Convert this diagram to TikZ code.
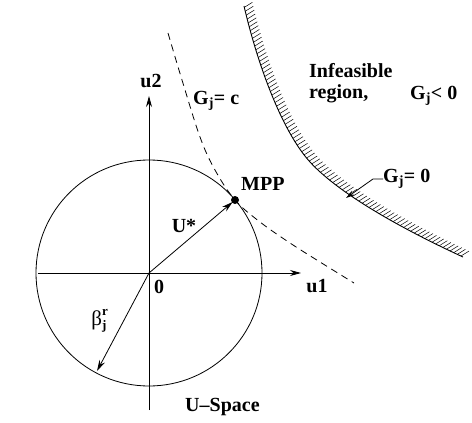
\documentclass[tikz,border=0pt]{standalone}
\usepackage{fontspec}
\setmainfont{Liberation Serif}
\usetikzlibrary{arrows.meta,decorations.markings}
\begin{document}
\begin{tikzpicture}[x=1pt,y=-1pt,
  lbl/.style={font=\fontsize{20}{22}\selectfont\bfseries, inner sep=0pt},
  tip/.style={-{Stealth[length=11pt,width=6pt]}},
  ln/.style={line width=0.8pt},
  dsh/.style={line width=0.8pt, dash pattern=on 7pt off 5pt},
  hatch/.style={postaction={decorate, decoration={markings,
     mark=between positions 0.004 and 0.996 step 4pt with {\pgftransformresetnontranslations\draw[line width=0.5pt] (0pt,0pt) -- (32:9.5pt);}}}}]
\useasboundingbox (0,0) rectangle (472,423);
\fill[white] (0,0) rectangle (472,423);
% coordinates
\coordinate (O) at (149,273);
\coordinate (xl) at (38,273);
\coordinate (xr) at (301,273);
\coordinate (yb) at (149,410);
\coordinate (yt) at (149,96);
\coordinate (mpp) at (235,200);
\coordinate (beta) at (97,371);
\coordinate (g0a) at (244,6);
\coordinate (g0m) at (310,162);
\coordinate (g0b) at (463,257);
% circle and axes
\draw[ln] (O) circle[radius=113pt];
\draw[ln,tip] (xl) -- (xr);
\draw[ln,tip] (yb) -- (yt);
% vectors
\fill (mpp) circle[radius=4pt];
\draw[ln,tip,shorten >=3pt] (O) -- (mpp);
\draw[ln,tip] (O) -- (beta);
% G_j = c dashed curve
\draw[dsh] plot[smooth,tension=0.6] coordinates {(168,33) (182,80) (200,137) (215,170) (235,200) (260,222) (290,243) (320,262) (354,283)};
% G_j = 0 curve with hatching
\draw[line width=0.9pt, hatch] (g0a) .. controls (257,62) and (281,130) .. (g0m)
   .. controls (342,197) and (413,234) .. (g0b);
% labels
\node[lbl] (u1) at (317,286) {u1};
\node[lbl] (u2) at (151,81) {u2};
\node[lbl] (zero) at (159,287) {0};
\node[lbl] (ustar) at (184,226) {U*};
\node[lbl, anchor=west] (mpplbl) at (241,184) {MPP};
\node[inner sep=0pt, font=\fontsize{21}{22}\selectfont] (betalbl) at (99,321)
  {β\rlap{\raisebox{1.0ex}{\fontsize{13}{13}\selectfont\bfseries r}}\raisebox{-0.45ex}{\fontsize{13}{13}\selectfont\bfseries j}};
\node[lbl, anchor=west] (uspace) at (185,407) {U--Space};
\node[lbl, anchor=west] (gjc) at (193,101) {G\textsubscript{j}= c};
\node[lbl, anchor=west] (inf) at (309,71) {Infeasible};
\node[lbl, anchor=west] (reg) at (309,94) {region,};
\node[lbl, anchor=west] (gjl) at (410,96) {G\textsubscript{j}< 0};
\node[lbl, anchor=west] (gj0) at (383,179) {G\textsubscript{j}= 0};
\coordinate (gj0tip) at (346,198);
\draw[ln,-{Stealth[length=9pt,width=5pt]}] (gj0.west) -- ++(-10,0) -- (gj0tip);
\end{tikzpicture}
\end{document}
